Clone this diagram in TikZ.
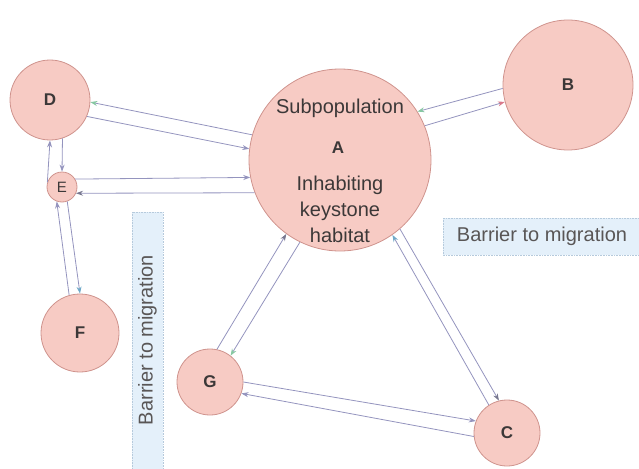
\documentclass[tikz,border=0pt]{standalone}
\usepackage{fontspec}
\setmainfont{Liberation Sans}
\usetikzlibrary{arrows.meta}
\definecolor{popfill}{HTML}{F7CBC4}
\definecolor{popedge}{HTML}{CF938D}
\definecolor{flowline}{HTML}{9494BE}
\definecolor{flowdark}{HTML}{78788F}
\definecolor{tipgreen}{HTML}{86C8A2}
\definecolor{tippink}{HTML}{D9798A}
\definecolor{tipteal}{HTML}{6FA9C8}
\definecolor{barrierfill}{HTML}{E4F0FA}
\definecolor{barrieredge}{HTML}{B6CADC}
\definecolor{textink}{HTML}{3C3838}
\newcommand{\labelfont}{\fontsize{20}{26}\selectfont}

\begin{document}
\begin{tikzpicture}[x=1pt, y=-1pt,
  pop/.style={circle, draw=popedge, line width=0.8pt, fill=popfill, inner sep=0pt, text=textink, font=\fontsize{17}{17}\selectfont\bfseries},
  poptext/.style={text=textink, font=\labelfont, inner sep=0pt},
  barrier/.style={fill=barrierfill, draw=barrieredge, densely dotted, line width=0.6pt},
  barriertext/.style={text=textink!85, font=\labelfont, inner sep=0pt},
  flow/.style={draw=flowline, line width=0.8pt, -{Stealth[length=7pt, width=5pt, color=#1]}},
  flow/.default=flowline]

  \useasboundingbox (0,0) rectangle (639,468);

  % barriers to migration
  \path[barrier] (132,212) rectangle (163,472);
  \node[barriertext, rotate=90] (vbarrier) at (147.5,340) {Barrier to migration};
  \path[barrier] (443,218) rectangle (643,255);
  \node[barriertext] (hbarrier) at (542,236) {Barrier to migration};

  % subpopulations
  \node[pop, minimum size=182pt] (A) at (340,160) {};
  \node[poptext] (subpop) at (340,108) {Subpopulation};
  \node[poptext, font=\fontsize{17}{17}\selectfont\bfseries] (Aname) at (338,148) {A};
  \node[poptext, align=center] (habitat) at (340,209) {Inhabiting\\keystone\\habitat};
  \node[pop, minimum size=130pt] (B) at (568,85) {B};
  \node[pop, minimum size=66pt] (C) at (507,433) {C};
  \node[pop, minimum size=80pt] (D) at (50,100) {D};
  \node[pop, minimum size=30pt, font=\fontsize{15}{15}\selectfont] (E) at (62,187) {E};
  \node[pop, minimum size=78pt] (F) at (80,333) {F};
  \node[pop, minimum size=66pt] (G) at (210,382) {G};

  % migration
  \draw[flow=tipgreen] (A.164) -- (D.-3);
  \draw[flow] (D.-24) -- (A.173);
  \draw[flow] (E.31) -- (A.191);
  \draw[flow=flowdark] (A.201) -- (E.-24);
  \draw[flow] (E.162) -- (D.-90);
  \draw[flow] (D.-72) -- (E.90);
  \draw[flow] (F.106) -- (E.250);
  \draw[flow=tipteal] (E.290) -- (F.90);
  \draw[flow=flowdark] (G.78) -- (A.234);
  \draw[flow=tipgreen] (A.244) -- (G.52);
  \draw[flow] (G.0) -- (C.159);
  \draw[flow] (C.186) -- (G.-20);
  \draw[flow=tipteal] (C.123) -- (A.-55);
  \draw[flow=flowdark] (A.-49) -- (C.104);
  \draw[flow=tipgreen] (B.183) -- (A.32);
  \draw[flow=tippink] (A.22) -- (B.195);

\end{tikzpicture}
\end{document}
